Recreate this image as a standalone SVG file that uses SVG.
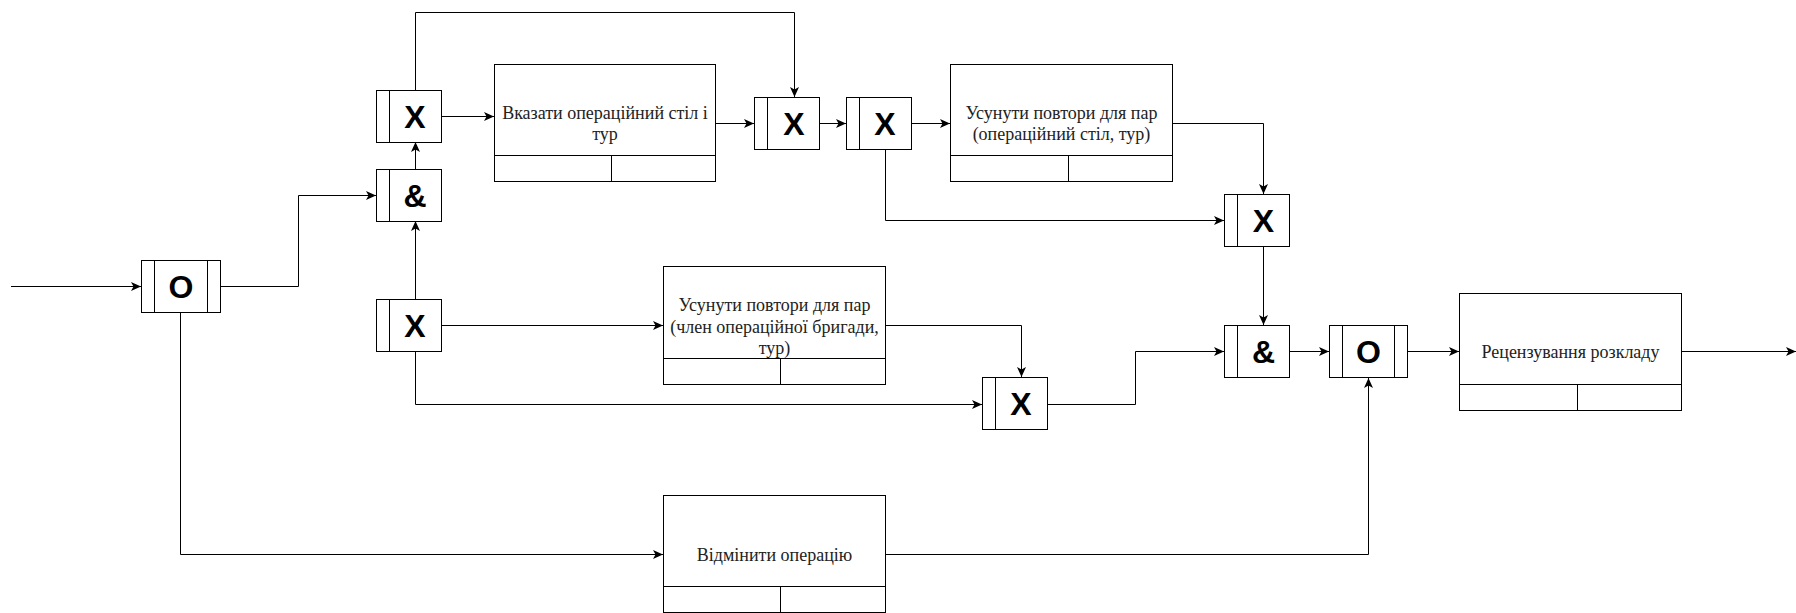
<svg xmlns="http://www.w3.org/2000/svg" width="1796" height="613" viewBox="0 0 1796 613">
<style>
.b{fill:#fff;stroke:#000;stroke-width:1}
.l{fill:none;stroke:#000;stroke-width:1}
.c{fill:none;stroke:#000;stroke-width:1;marker-end:url(#arr)}
.g{font-family:"Liberation Sans",Arial,sans-serif;font-weight:bold;font-size:32px;fill:#000;text-anchor:middle;dominant-baseline:central}
.t{font-family:"Liberation Serif","Times New Roman",serif;font-size:18px;fill:#222;text-anchor:middle;dominant-baseline:central}
</style>
<defs>
<marker id="arr" markerWidth="11" markerHeight="9" refX="10" refY="4.5" orient="auto" markerUnits="userSpaceOnUse"><path d="M0,0 L10,4.5 L0,9 L2.5,4.5 Z" fill="#000"/></marker>
</defs>
<g id="connectors">
<path class="c" d="M11,286.5 H141"/>
<path class="c" d="M220,286.5 H298.5 V195.5 H376"/>
<path class="c" d="M415.5,169 V142"/>
<path class="c" d="M415.5,299 V221"/>
<path class="c" d="M441,116.5 H494"/>
<path class="c" d="M415.5,90 V12.5 H794.5 V97"/>
<path class="c" d="M716,123.5 H754"/>
<path class="c" d="M820,123.5 H846"/>
<path class="c" d="M911,123.5 H950"/>
<path class="c" d="M885.5,149 V220.5 H1224"/>
<path class="c" d="M1172,123.5 H1263.5 V194"/>
<path class="c" d="M1263.5,247 V325"/>
<path class="c" d="M441,325.5 H663"/>
<path class="c" d="M885,325.5 H1021.5 V377"/>
<path class="c" d="M415.5,351 V404.5 H982"/>
<path class="c" d="M1047,404.5 H1135.5 V351.5 H1224"/>
<path class="c" d="M1290,351.5 H1329"/>
<path class="c" d="M1407,351.5 H1459"/>
<path class="c" d="M1681,351.5 H1796"/>
<path class="c" d="M180.5,312 V554.5 H663"/>
<path class="c" d="M885,554.5 H1368.5 V378"/>
</g>
<g id="gate-o1"><rect class="b" x="141.5" y="260.5" width="79" height="52"/><path class="l" d="M154.5,260.5 V312.5 M207.5,260.5 V312.5"/><text class="g" x="181" y="287">O</text></g>
<g id="gate-x1"><rect class="b" x="376.5" y="90.5" width="65" height="52"/><path class="l" d="M389.5,90.5 V142.5"/><text class="g" x="415" y="117">X</text></g>
<g id="gate-and1"><rect class="b" x="376.5" y="169.5" width="65" height="52"/><path class="l" d="M389.5,169.5 V221.5"/><text class="g" x="415" y="196">&amp;</text></g>
<g id="gate-x2"><rect class="b" x="376.5" y="299.5" width="65" height="52"/><path class="l" d="M389.5,299.5 V351.5"/><text class="g" x="415" y="326">X</text></g>
<g id="gate-x3"><rect class="b" x="754.5" y="97.5" width="65" height="52"/><path class="l" d="M767.5,97.5 V149.5"/><text class="g" x="794" y="124">X</text></g>
<g id="gate-x4"><rect class="b" x="846.5" y="97.5" width="65" height="52"/><path class="l" d="M859.5,97.5 V149.5"/><text class="g" x="885" y="124">X</text></g>
<g id="gate-x5"><rect class="b" x="1224.5" y="194.5" width="65" height="52"/><path class="l" d="M1237.5,194.5 V246.5"/><text class="g" x="1263.5" y="221">X</text></g>
<g id="gate-x6"><rect class="b" x="982.5" y="377.5" width="65" height="52"/><path class="l" d="M995.5,377.5 V429.5"/><text class="g" x="1021" y="404">X</text></g>
<g id="gate-and2"><rect class="b" x="1224.5" y="325.5" width="65" height="52"/><path class="l" d="M1237.5,325.5 V377.5"/><text class="g" x="1263.5" y="352">&amp;</text></g>
<g id="gate-o2"><rect class="b" x="1329.5" y="325.5" width="78" height="52"/><path class="l" d="M1342.5,325.5 V377.5 M1394.5,325.5 V377.5"/><text class="g" x="1368.5" y="352">O</text></g>
<g id="task-1"><rect class="b" x="494.5" y="64.5" width="221" height="117"/><path class="l" d="M494.5,155.5 H715.5 M611.5,155.5 V181.5"/><text class="t" x="605" y="112.5">Вказати операційний стіл і</text><text class="t" x="605" y="134">тур</text></g>
<g id="task-2"><rect class="b" x="950.5" y="64.5" width="222" height="117"/><path class="l" d="M950.5,155.5 H1172.5 M1068.5,155.5 V181.5"/><text class="t" x="1061.5" y="112.5">Усунути повтори для пар</text><text class="t" x="1061.5" y="134">(операційний стіл, тур)</text></g>
<g id="task-3"><rect class="b" x="663.5" y="266.5" width="222" height="118"/><path class="l" d="M663.5,358.5 H885.5 M780.5,358.5 V384.5"/><text class="t" x="774.5" y="305">Усунути повтори для пар</text><text class="t" x="774.5" y="326.5">(член операційної бригади,</text><text class="t" x="774.5" y="348">тур)</text></g>
<g id="task-5"><rect class="b" x="663.5" y="495.5" width="222" height="117"/><path class="l" d="M663.5,586.5 H885.5 M780.5,586.5 V612.5"/><text class="t" x="774.5" y="555">Відмінити операцію</text></g>
<g id="task-4"><rect class="b" x="1459.5" y="293.5" width="222" height="117"/><path class="l" d="M1459.5,384.5 H1681.5 M1577.5,384.5 V410.5"/><text class="t" x="1570.5" y="352">Рецензування розкладу</text></g>
</svg>
